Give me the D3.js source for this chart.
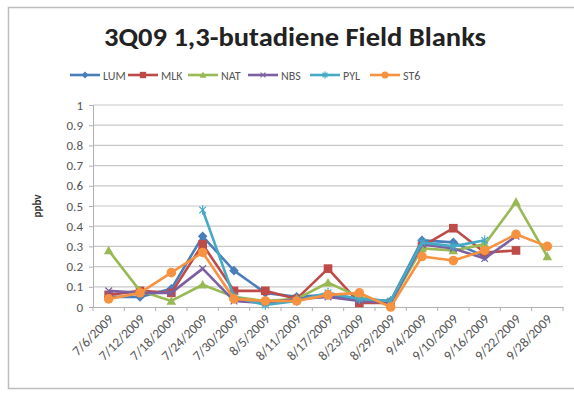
<!DOCTYPE html>
<html><head><meta charset="utf-8">
<script src="https://cdn.jsdelivr.net/npm/d3@7"></script>
<style>body{margin:0;background:#fff}svg{display:block}</style>
</head><body>
<script>
const categories = ["7/6/2009","7/12/2009","7/18/2009","7/24/2009","7/30/2009","8/5/2009","8/11/2009","8/17/2009","8/23/2009","8/29/2009","9/4/2009","9/10/2009","9/16/2009","9/22/2009","9/28/2009"];
const seriesNames = ["LUM","MLK","NAT","NBS","PYL","ST6"];
const LUM = [0.05,0.05,0.09,0.35,0.18,0.07,0.05,0.06,0.04,0.03,0.33,0.32,0.25,null,null];
const MLK = [0.06,0.08,0.07,0.31,0.08,0.08,0.04,0.19,0.02,0.02,0.30,0.39,0.27,0.28,null];
const NAT = [0.28,0.08,0.03,0.11,0.05,0.03,0.04,0.12,0.05,0.02,0.29,0.28,0.31,0.52,0.25];
const NBS = [0.08,0.07,0.07,0.19,0.03,0.02,0.04,0.05,0.03,0.02,0.31,0.29,0.24,0.35,null];
const PYL = [null,null,null,0.48,0.05,0.01,0.03,0.07,0.04,0.03,0.32,0.30,0.33,null,null];
const ST6 = [0.04,0.07,0.17,0.27,0.04,0.03,0.03,0.06,0.07,0.00,0.25,0.23,0.28,0.36,0.30];
const seriesValues = [LUM,MLK,NAT,NBS,PYL,ST6];
const colors = ["#4A7EBB","#BE4B48","#98B954","#7D60A0","#46AAC5","#F69240"];
const markers = ["diamond","square","triangle","x","star","circle"];
const yTicks = [0,0.1,0.2,0.3,0.4,0.5,0.6,0.7,0.8,0.9,1];
const title = "3Q09 1,3-butadiene Field Blanks";
const yTitle = "ppbv";

const W=574,H=394;
const svg=d3.select("body").append("svg").attr("width",W).attr("height",H);
svg.append("rect").attr("x",8.5).attr("y",7.5).attr("width",W).attr("height",381).attr("fill","#fff").attr("stroke","#bdbdbd").attr("stroke-width",1.5);

const L=93,R=563,T=105,B=307;
const x=d3.scalePoint().domain(categories).range([L,R]).padding(0.5);
const y=d3.scaleLinear().domain([0,1]).range([B,T]);
const font="Calibri, Carlito, 'Open Sans', 'Liberation Sans', sans-serif";

// gridlines
svg.append("g").selectAll("line").data(yTicks.slice(1)).join("line")
  .attr("x1",L).attr("x2",R).attr("y1",d=>y(d)).attr("y2",d=>y(d))
  .attr("stroke","#c8c8c8").attr("stroke-width",1.2);

// y axis
const ya=svg.append("g").attr("transform",`translate(${L},0)`)
  .call(d3.axisLeft(y).tickValues(yTicks).tickFormat(d=>d3.format("")(d)).tickSize(4).tickPadding(6));
ya.select(".domain").attr("stroke","#b0b0b0");
ya.selectAll(".tick line").attr("stroke","#b0b0b0");
ya.selectAll("text").attr("font-family",font).attr("font-size",13).attr("fill","#555");

// x axis
const step=x.step();
const xa=svg.append("g").attr("transform",`translate(0,${B})`)
  .call(d3.axisBottom(x).tickSize(0).tickPadding(0));
xa.select(".domain").attr("stroke","#b0b0b0");
xa.selectAll(".tick line").remove();
svg.append("g").selectAll("line").data(d3.range(categories.length+1)).join("line")
  .attr("x1",i=>L+i*step).attr("x2",i=>L+i*step).attr("y1",B).attr("y2",B+4).attr("stroke","#b0b0b0");
xa.selectAll("text").attr("font-family",font).attr("font-size",13.5).attr("fill","#555")
  .attr("text-anchor","end").attr("dy","0").attr("transform","translate(5,13) rotate(-45)");

// y title
svg.append("text").attr("transform","translate(41,206) rotate(-90)").attr("text-anchor","middle")
  .attr("font-family",font).attr("font-size",11).attr("font-weight","bold").attr("fill","#333").text(yTitle);

// title
svg.append("text").attr("x",295).attr("y",46).attr("text-anchor","middle")
  .attr("font-family",font).attr("font-size",26).attr("font-weight","bold").attr("fill","#222")
  .attr("textLength",382).attr("lengthAdjust","spacingAndGlyphs").text(title);

function drawMarker(g,type,cx,cy,color,s){
  if(type==="diamond") g.append("path").attr("d",`M${cx},${cy-s}L${cx+s},${cy}L${cx},${cy+s}L${cx-s},${cy}Z`).attr("fill",color);
  else if(type==="square") g.append("rect").attr("x",cx-s*0.9).attr("y",cy-s*0.9).attr("width",s*1.8).attr("height",s*1.8).attr("fill",color);
  else if(type==="triangle") g.append("path").attr("d",`M${cx},${cy-s}L${cx+s},${cy+s*0.8}L${cx-s},${cy+s*0.8}Z`).attr("fill",color);
  else if(type==="circle") g.append("circle").attr("cx",cx).attr("cy",cy).attr("r",s).attr("fill",color);
  else if(type==="x") g.append("path").attr("d",`M${cx-s*0.7},${cy-s*0.7}L${cx+s*0.7},${cy+s*0.7}M${cx-s*0.7},${cy+s*0.7}L${cx+s*0.7},${cy-s*0.7}`).attr("stroke",color).attr("stroke-width",1.2);
  else if(type==="star") g.append("path").attr("d",`M${cx-s*0.7},${cy-s*0.7}L${cx+s*0.7},${cy+s*0.7}M${cx-s*0.7},${cy+s*0.7}L${cx+s*0.7},${cy-s*0.7}M${cx},${cy-s}L${cx},${cy+s}`).attr("stroke",color).attr("stroke-width",1.2);
}

const line=d3.line().defined(d=>d.v!==null).x(d=>x(d.c)).y(d=>y(d.v));
seriesValues.forEach((vals,si)=>{
  const data=vals.map((v,i)=>({c:categories[i],v}));
  const g=svg.append("g");
  g.append("path").datum(data).attr("d",line).attr("fill","none").attr("stroke",colors[si]).attr("stroke-width",2.6).attr("stroke-linejoin","round");
  data.filter(d=>d.v!==null).forEach(d=>drawMarker(g,markers[si],x(d.c),y(d.v),colors[si],4.8));
});

// legend
const legX=[70,128,188,248,310,370];
seriesNames.forEach((n,i)=>{
  const g=svg.append("g");
  const lx=legX[i], ly=75;
  g.append("line").attr("x1",lx).attr("x2",lx+30).attr("y1",ly).attr("y2",ly).attr("stroke",colors[i]).attr("stroke-width",2.6);
  drawMarker(g,markers[i],lx+15,ly,colors[i],3.5);
  g.append("text").attr("x",lx+33).attr("y",ly+4.5).attr("font-family",font).attr("font-size",12).attr("fill","#555").text(n);
});
</script>
</body></html>
